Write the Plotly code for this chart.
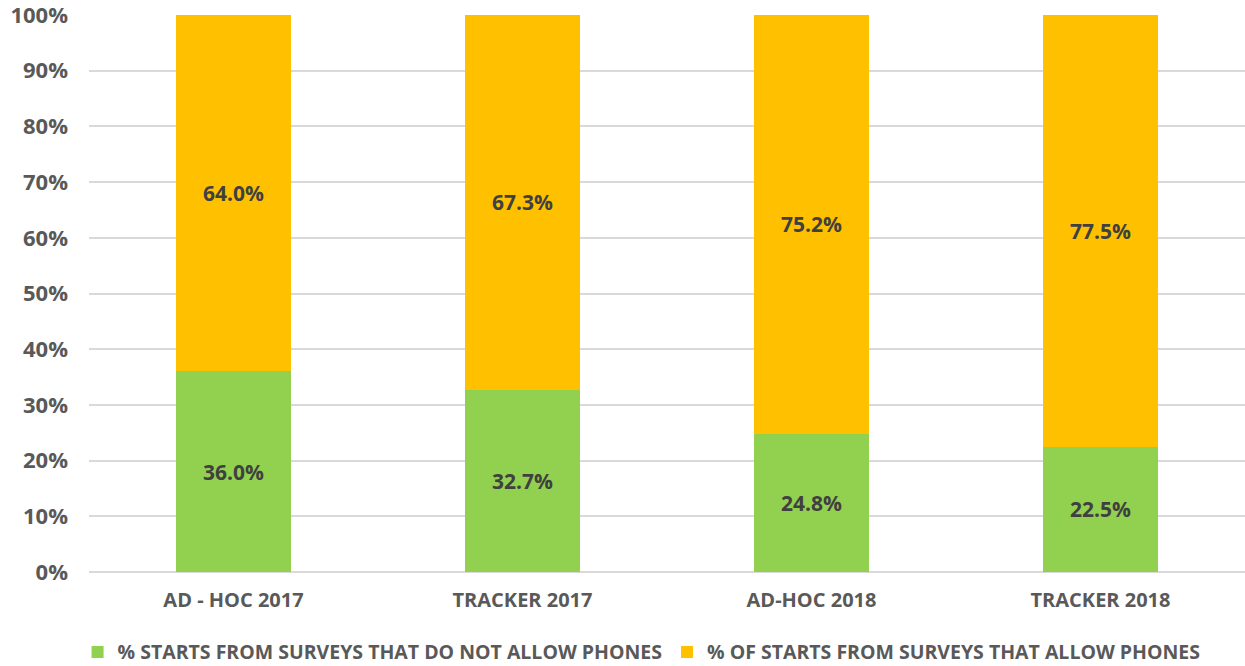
import plotly.graph_objects as go

categories = ["AD - HOC 2017", "TRACKER 2017", "AD-HOC 2018", "TRACKER 2018"]
no_phones = [36.0, 32.7, 24.8, 22.5]
allow_phones = [64.0, 67.3, 75.2, 77.5]
series_names = ["% STARTS FROM SURVEYS THAT DO NOT ALLOW PHONES",
                "% OF STARTS FROM SURVEYS THAT ALLOW PHONES"]
tick_vals = [0, 10, 20, 30, 40, 50, 60, 70, 80, 90, 100]
tick_text = [f"{v}%" for v in tick_vals]

FONT = "Open Sans"
label_font = dict(family=FONT, size=21, color="#404040", weight="bold")

fig = go.Figure()
fig.add_trace(go.Bar(
    x=categories, y=no_phones, name=series_names[0],
    marker=dict(color="#92D050", line=dict(width=0)),
    text=[f"{v:.1f}%" for v in no_phones], textposition="inside",
    insidetextanchor="middle", textfont=label_font, textangle=0,
))
fig.add_trace(go.Bar(
    x=categories, y=allow_phones, name=series_names[1],
    marker=dict(color="#FFC000", line=dict(width=0)),
    text=[f"{v:.1f}%" for v in allow_phones], textposition="inside",
    insidetextanchor="middle", textfont=label_font, textangle=0,
))

fig.update_layout(
    barmode="stack",
    bargap=0.6,
    width=1245, height=666,
    margin=dict(l=89, r=0, t=15, b=94, autoexpand=False),
    plot_bgcolor="white", paper_bgcolor="white",
    font=dict(family=FONT, color="#595959", weight="bold"),
    uniformtext=dict(mode=False),
    legend=dict(
        orientation="h", x=0.478, xanchor="center", y=-0.144, yanchor="middle",
        font=dict(family=FONT, size=19.5, color="#595959", weight="bold"),
        itemwidth=30, traceorder="normal",
    ),
    xaxis=dict(
        tickfont=dict(family=FONT, size=20, color="#595959", weight="bold"),
        showgrid=False, showline=False, ticks="", automargin=False,
        ticklabelstandoff=14,
    ),
    yaxis=dict(
        range=[0, 100], tickvals=tick_vals, ticktext=tick_text,
        tickfont=dict(family=FONT, size=22, color="#595959", weight="bold"),
        showgrid=True, gridcolor="#D9D9D9", gridwidth=1.5,
        zeroline=True, zerolinecolor="#D9D9D9", zerolinewidth=1.5,
        ticks="", ticklabelstandoff=20, automargin=False,
        ticklabeloverflow="allow",
    ),
)

fig.write_html("out.html")
